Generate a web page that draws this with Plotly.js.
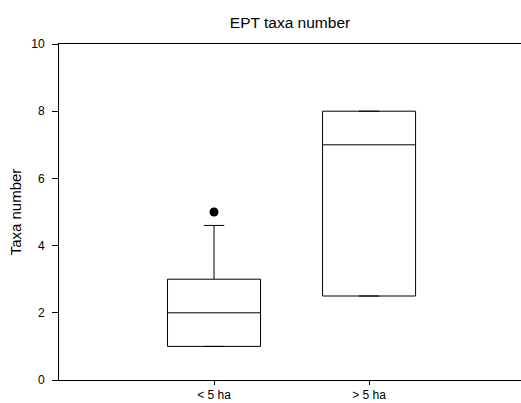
<!DOCTYPE html>
<html>
<head>
<meta charset="utf-8">
<script src="https://cdn.plot.ly/plotly-3.0.1.min.js"></script>
<style>html,body{margin:0;padding:0;background:#fff;}#chart{width:521px;height:403px;}</style>
</head>
<body>
<div id="chart"></div>
<script>
const categories = ["< 5 ha", "> 5 ha"];
const q1 = [1, 2.5];
const medians = [2, 7];
const q3 = [3, 8];
const lowerFence = [1, 2.5];
const upperFence = [4.6, 8];
const outlierCats = ["< 5 ha"];
const outlierVals = [5];
const yTicks = [0, 2, 4, 6, 8, 10];

const font = "Liberation Sans, Arial, sans-serif";

const traces = [
  {
    type: "box",
    x: categories,
    q1: q1,
    median: medians,
    q3: q3,
    lowerfence: lowerFence,
    upperfence: upperFence,
    width: 0.6,
    whiskerwidth: 0.22,
    fillcolor: "rgba(255,255,255,0)",
    line: {color: "#000", width: 1},
    boxpoints: false,
    showlegend: false,
    hoverinfo: "skip"
  },
  {
    type: "scatter",
    mode: "markers",
    x: outlierCats,
    y: outlierVals,
    marker: {color: "#000", size: 9, symbol: "circle"},
    showlegend: false,
    hoverinfo: "skip"
  }
];

const layout = {
  width: 521,
  height: 403,
  margin: {l: 59, r: 0, t: 44, b: 23},
  paper_bgcolor: "#fff",
  plot_bgcolor: "#fff",
  font: {family: font, color: "#000", size: 12},
  title: {
    text: "EPT taxa number",
    font: {family: font, size: 15.5, color: "#000"},
    x: 0.5,
    xref: "paper",
    y: 0.945,
    yref: "container",
    yanchor: "middle"
  },
  xaxis: {
    type: "category",
    categoryarray: categories,
    range: [-1, 1.98],
    showgrid: false,
    zeroline: false,
    showline: true,
    linecolor: "#000",
    linewidth: 1,
    mirror: true,
    ticks: "outside",
    ticklen: 4,
    tickcolor: "#000",
    tickfont: {family: font, size: 12, color: "#000"}
  },
  yaxis: {
    range: [0, 10],
    tickvals: yTicks,
    ticktext: yTicks.map(String),
    showgrid: false,
    zeroline: false,
    showline: true,
    linecolor: "#000",
    linewidth: 1,
    ticks: "outside",
    ticklen: 6,
    tickcolor: "#000",
    ticklabelstandoff: 5,
    tickfont: {family: font, size: 12, color: "#000"},
    title: {text: "Taxa number", font: {family: font, size: 15, color: "#000"}, standoff: 5}
  }
};

Plotly.newPlot("chart", traces, layout, {displayModeBar: false, staticPlot: true});
</script>
</body>
</html>
